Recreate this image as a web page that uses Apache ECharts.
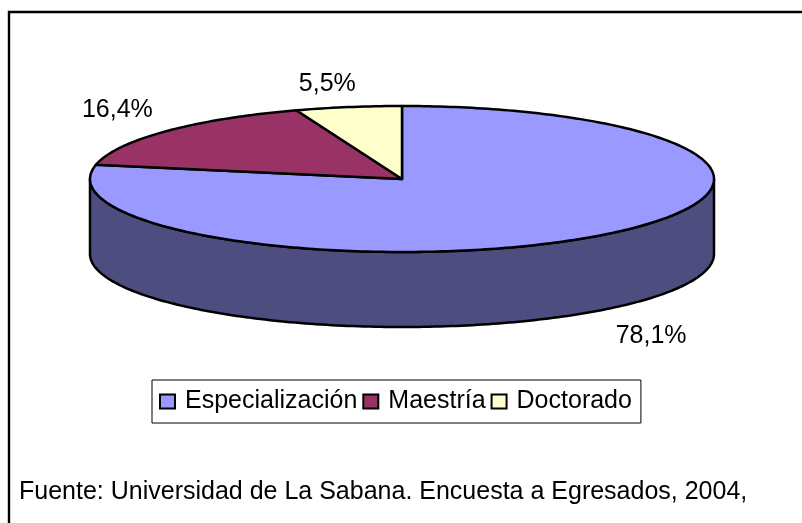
<!DOCTYPE html>
<html>
<head>
<meta charset="utf-8">
<style>html,body{margin:0;padding:0;background:#fff}#c{width:802px;height:523px}</style>
<script src="https://cdn.jsdelivr.net/npm/echarts@6/dist/echarts.min.js"></script>
</head>
<body>
<div id="c"></div>
<script>
const categories = ['Especialización', 'Maestría', 'Doctorado'];
const values = [78.1, 16.4, 5.5];
const labels = ['78,1%', '16,4%', '5,5%'];
const topColors = ['#9999FF', '#993366', '#FFFFCC'];
const wallColors = ['#4D4D80', '#4D1A33', '#808066'];
const footnote = 'Fuente: Universidad de La Sabana. Encuesta a Egresados, 2004,';

const FONT = '"Liberation Sans", Arial, sans-serif';
const geom = { cx: 402, cy: 179, rx: 312, ry: 73, depth: 75 };
const labelOffsets = [[51, 26], [-48, -21], [-21, -23]];

const total = values.reduce((a, b) => a + b, 0);
const starts = [];
values.reduce((acc, v, i) => { starts[i] = acc; return acc + v; }, 0);

function pt(deg, dy) {
  const t = deg * Math.PI / 180;
  return [geom.cx + geom.rx * Math.sin(t), geom.cy - geom.ry * Math.cos(t) + (dy || 0)];
}
function arc(a, b, dy) {
  const out = [];
  const n = Math.max(2, Math.ceil(Math.abs(b - a)));
  for (let i = 0; i <= n; i++) out.push(pt(a + (b - a) * i / n, dy));
  return out;
}
const lineStyle = { stroke: '#000', lineWidth: 2.5, lineJoin: 'round' };

function renderSlice(params, api) {
  const i = params.seriesIndex;
  const v = api.value(0);
  const a0 = starts[i] / total * 360;
  const a1 = a0 + v / total * 360;
  const children = [];
  const w0 = Math.max(a0, 90), w1 = Math.min(a1, 270);
  if (w1 > w0) {
    const upper = arc(w0, w1, 0);
    const lower = arc(w1, w0, geom.depth);
    children.push({
      type: 'polygon',
      shape: { points: upper.concat(lower) },
      style: Object.assign({ fill: wallColors[i] }, lineStyle)
    });
  }
  children.push({
    type: 'polygon',
    shape: { points: [[geom.cx, geom.cy]].concat(arc(a0, a1, 0)) },
    style: Object.assign({ fill: topColors[i] }, lineStyle)
  });
  const midA = (a0 + a1) / 2;
  const mid = pt(midA, midA > 90 && midA < 270 ? geom.depth : 0);
  children.push({
    type: 'text',
    style: {
      x: mid[0] + labelOffsets[i][0],
      y: mid[1] + labelOffsets[i][1],
      text: labels[i],
      fill: '#000',
      font: '25px ' + FONT,
      textAlign: 'center',
      textVerticalAlign: 'middle'
    }
  });
  return { type: 'group', children };
}

const chart = echarts.init(document.getElementById('c'), null, { renderer: 'canvas' });
chart.setOption({
  animation: false,
  backgroundColor: '#fff',
  title: {
    text: footnote,
    left: 19, top: 480, padding: 0,
    textStyle: { color: '#000', fontFamily: FONT, fontSize: 25, fontWeight: 'normal' }
  },
  legend: {
    data: categories,
    left: 152, top: 380,
    padding: [9, 9, 9, 7],
    itemGap: 5, itemWidth: 15, itemHeight: 14,
    icon: 'rect',
    backgroundColor: '#fff',
    borderColor: '#000', borderWidth: 1,
    selectedMode: false,
    textStyle: { color: '#000', fontFamily: FONT, fontSize: 25, padding: [0, 0, 0, 5] }
  },
  graphic: [{
    type: 'rect', silent: true, z: -1,
    shape: { x: 9, y: 12, width: 900, height: 600 },
    style: { fill: 'none', stroke: '#000', lineWidth: 2.4 }
  }],
  series: categories.map((name, i) => ({
    type: 'custom',
    name,
    coordinateSystem: 'none',
    renderItem: renderSlice,
    data: [[values[i]]],
    itemStyle: { color: topColors[i], borderColor: '#000', borderWidth: 2 },
    z: 2
  }))
});
</script>
</body>
</html>
